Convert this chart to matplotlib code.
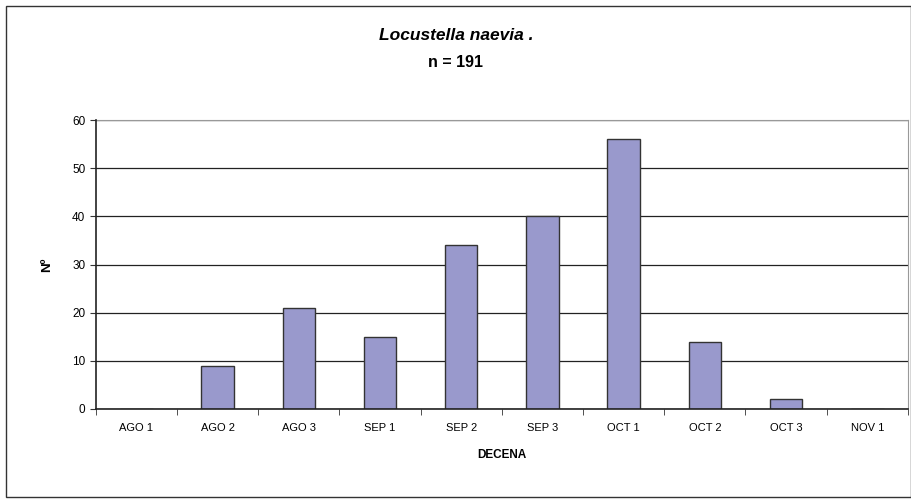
import matplotlib.pyplot as plt
import numpy as np
from matplotlib.patches import Rectangle

plt.rcParams['font.family'] = ['Liberation Sans', 'DejaVu Sans']

# datos por decena
decenas = ['AGO 1', 'AGO 2', 'AGO 3', 'SEP 1', 'SEP 2', 'SEP 3', 'OCT 1', 'OCT 2', 'OCT 3', 'NOV 1']
capturas = [0, 9, 21, 15, 34, 40, 56, 14, 2, 0]
yticks = [0, 10, 20, 30, 40, 50, 60]

fig = plt.figure(figsize=(9.12, 5.03), dpi=100)
ax = fig.add_axes([0.105, 0.187, 0.8905, 0.574])

# marco exterior
fig.patches.append(Rectangle((0.007, 0.012), 0.992, 0.976, transform=fig.transFigure,
                             fill=False, edgecolor='#333333', linewidth=1.0))

x = np.arange(len(decenas))
ax.bar(x, capturas, width=0.4, color='#9999CC', edgecolor='#333333', linewidth=1.0, zorder=2)

ax.set_xlim(-0.5, len(decenas) - 0.5)
ax.set_ylim(0, 60)
ax.set_yticks(yticks)
ax.set_xticks(x)
ax.set_xticklabels(decenas, fontsize=8)
ax.tick_params(axis='x', length=0, pad=10)
ax.set_xticks(np.arange(-0.5, len(decenas)), minor=True)
ax.tick_params(axis='x', which='minor', length=4, direction='out', color='#333333')
ax.tick_params(axis='y', labelsize=8.5, length=4, direction='out', color='#333333')
ax.yaxis.grid(True, color='#222222', linewidth=0.9, zorder=0)
ax.set_axisbelow(True)

for s in ['left', 'bottom']:
    ax.spines[s].set_color('#222222')
    ax.spines[s].set_linewidth(1.2)
    ax.spines[s].set_zorder(4)
ax.spines['top'].set_color('#999999')
ax.spines['right'].set_color('#999999')

ax.set_xlabel('DECENA', fontsize=8.5, fontweight='bold', labelpad=12)
ax.set_ylabel('Nº', fontsize=9.5, fontweight='bold', labelpad=14)

fig.text(0.5, 0.93, 'Locustella naevia .', ha='center', va='center',
         fontsize=12.5, fontweight='bold', fontstyle='italic')
fig.text(0.5, 0.875, 'n = 191', ha='center', va='center', fontsize=11.5, fontweight='bold')

fig.savefig('out.png', dpi=100)
